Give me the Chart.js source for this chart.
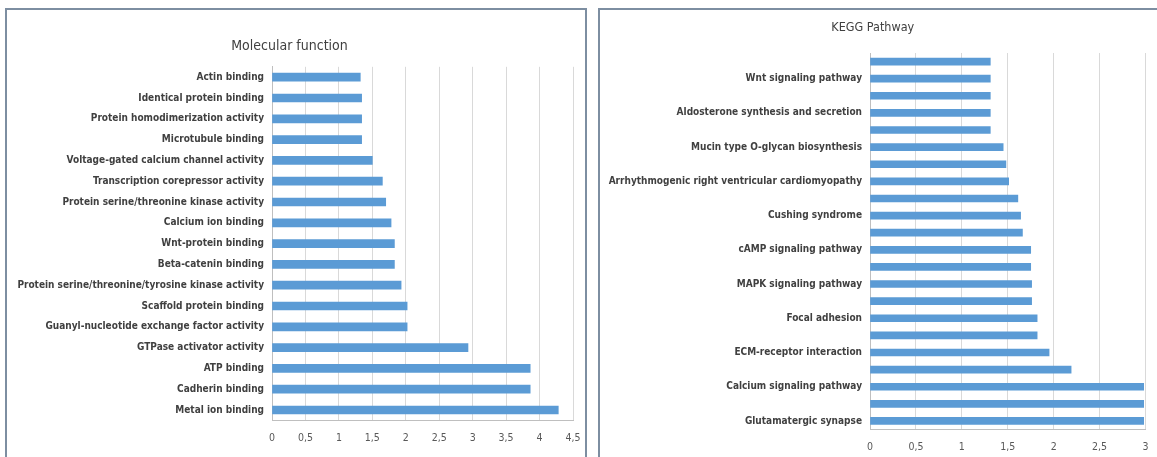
<!DOCTYPE html>
<html>
<head>
<meta charset="utf-8">
<script src="https://cdn.jsdelivr.net/npm/chart.js@4"></script>
<style>
  html, body { margin: 0; padding: 0; background: #ffffff; width: 1157px; height: 457px; overflow: hidden; }
  .panel { position: absolute; border: 2px solid #7d8ea1; border-bottom: none; box-sizing: border-box; }
  #mfPanel { left: 5px; top: 8px; width: 582px; height: 460px; }
  #keggPanel { left: 598px; top: 8px; width: 570px; height: 460px; }
  .wrap { position: absolute; }
  #mfWrap { left: 6px; top: 10px; width: 578px; height: 447px; }
  #keggWrap { left: 600px; top: 10px; width: 557px; height: 447px; }
</style>
</head>
<body>
<div class="panel" id="mfPanel"></div>
<div class="panel" id="keggPanel"></div>
<div class="wrap" id="mfWrap"><canvas id="mf"></canvas></div>
<div class="wrap" id="keggWrap"><canvas id="kegg"></canvas></div>
<script>
// Molecular function terms, top to bottom
const mfTerms = [
  'Actin binding',
  'Identical protein binding',
  'Protein homodimerization activity',
  'Microtubule binding',
  'Voltage-gated calcium channel activity',
  'Transcription corepressor activity',
  'Protein serine/threonine kinase activity',
  'Calcium ion binding',
  'Wnt-protein binding',
  'Beta-catenin binding',
  'Protein serine/threonine/tyrosine kinase activity',
  'Scaffold protein binding',
  'Guanyl-nucleotide exchange factor activity',
  'GTPase activator activity',
  'ATP binding',
  'Cadherin binding',
  'Metal ion binding'
];
const mfValues = [1.32, 1.34, 1.34, 1.34, 1.50, 1.65, 1.70, 1.78, 1.83, 1.83, 1.93, 2.02, 2.02, 2.93, 3.86, 3.86, 4.28];

// KEGG pathways, top to bottom (only every other name is printed on the axis)
const keggTerms = [
  '', 'Wnt signaling pathway',
  '', 'Aldosterone synthesis and secretion',
  '', 'Mucin type O-glycan biosynthesis',
  '', 'Arrhythmogenic right ventricular cardiomyopathy',
  '', 'Cushing syndrome',
  '', 'cAMP signaling pathway',
  '', 'MAPK signaling pathway',
  '', 'Focal adhesion',
  '', 'ECM-receptor interaction',
  '', 'Calcium signaling pathway',
  '', 'Glutamatergic synapse'
];
const keggValues = [1.31, 1.31, 1.31, 1.31, 1.31, 1.45, 1.48, 1.51, 1.61, 1.64, 1.66, 1.75, 1.75, 1.76, 1.76, 1.82, 1.82, 1.95, 2.19, 2.98, 2.98, 2.98];

const mfTicks = { max: 4.5, step: 0.5 };
const keggTicks = { max: 3, step: 0.5 };

const FONT = "'DejaVu Sans Condensed', 'Liberation Sans Narrow', 'Open Sans', sans-serif";
const BAR = '#5b9bd5';
const TEXT = '#404040';

function commaDecimal(v) { return String(v).replace('.', ','); }

function makeChart(id, labels, values, cfg) {
  return new Chart(document.getElementById(id), {
    type: 'bar',
    data: {
      labels: labels,
      datasets: [{ data: values, backgroundColor: BAR, borderWidth: 0, barThickness: cfg.barThickness }]
    },
    options: {
      indexAxis: 'y',
      responsive: true,
      maintainAspectRatio: false,
      animation: false,
      layout: { padding: { left: 0, right: cfg.padRight, top: 0, bottom: cfg.padBottom } },
      plugins: {
        legend: { display: false },
        tooltip: { enabled: false },
        title: {
          display: true,
          text: cfg.title,
          color: TEXT,
          font: { family: FONT, size: cfg.titleSize, weight: 'normal', lineHeight: 1.2 },
          padding: cfg.titlePadding
        }
      },
      scales: {
        x: {
          min: 0,
          max: cfg.ticks.max,
          ticks: {
            stepSize: cfg.ticks.step,
            color: '#595959',
            font: { family: FONT, size: 10.5 },
            padding: 2,
            maxRotation: 0,
            callback: v => commaDecimal(v)
          },
          // invisible tick marks keep the labels clear of the axis line
          grid: { color: '#d9d9d9', lineWidth: 1, drawTicks: true, tickLength: cfg.tickGap, tickColor: 'rgba(0,0,0,0)' },
          border: { display: true, color: '#bfbfbf', width: 1 },
          afterFit: s => { s.height = cfg.xHeight; }
        },
        y: {
          ticks: {
            autoSkip: false,
            color: TEXT,
            font: { family: FONT, size: cfg.labelSize, weight: 'bold' },
            padding: 8
          },
          grid: { display: false, drawTicks: false },
          border: { display: true, color: '#bfbfbf', width: 1 },
          afterFit: s => { s.width = cfg.yWidth; }
        }
      }
    }
  });
}

makeChart('mf', mfTerms, mfValues, {
  title: 'Molecular function',
  titleSize: 14,
  titlePadding: { top: 28, bottom: 12 },
  ticks: mfTicks,
  barThickness: 8,
  labelSize: 10,
  yWidth: 266,
  xHeight: 26,
  tickGap: 10,
  padRight: 11,
  padBottom: 10.6
});

makeChart('kegg', keggTerms, keggValues, {
  title: 'KEGG Pathway',
  titleSize: 12.5,
  titlePadding: { top: 10, bottom: 18 },
  ticks: keggTicks,
  barThickness: 7,
  labelSize: 10,
  yWidth: 270,
  xHeight: 22,
  tickGap: 9,
  padRight: 11.5,
  padBottom: 5.5
});
</script>
</body>
</html>
